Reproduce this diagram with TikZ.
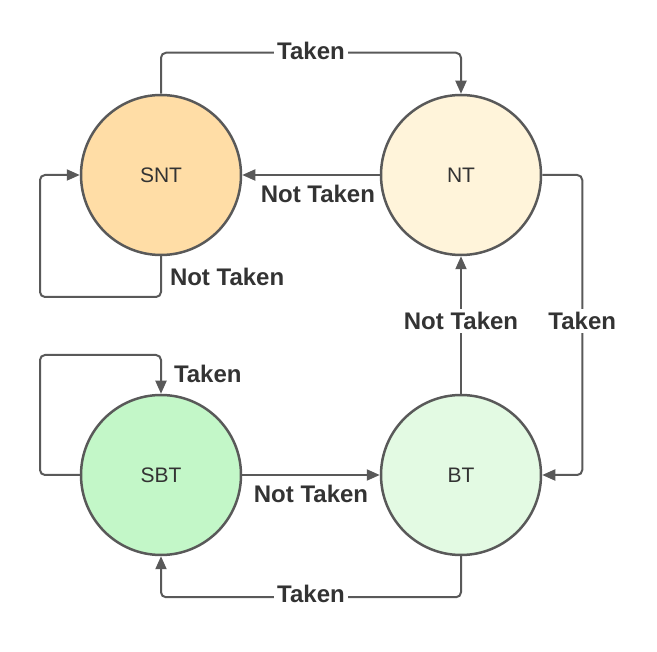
\documentclass[tikz,border=0pt]{standalone}
\usepackage{fontspec}
\setmainfont{Liberation Sans}
\usepackage{tikz}
\usetikzlibrary{arrows.meta}
\definecolor{linegray}{HTML}{595959}
\definecolor{textgray}{HTML}{333333}
\definecolor{sntfill}{HTML}{FFDDA6}
\definecolor{ntfill}{HTML}{FFF4DA}
\definecolor{sbtfill}{HTML}{C3F7C8}
\definecolor{btfill}{HTML}{E3FAE3}
\tikzstyle{state} = [circle, minimum size=160pt, inner sep=0pt, draw=linegray, line width=2.5pt, text=textgray, font=\fontsize{21}{25}\selectfont]
\tikzstyle{arrow} = [draw=linegray, line width=2pt, rounded corners=5pt, -{Triangle[length=13pt,width=11pt]}]
\tikzstyle{lbl} = [text=textgray, font=\fontsize{24}{28}\selectfont\bfseries, inner sep=3pt]

\begin{document}
\begin{tikzpicture}[x=1pt, y=-1pt]
        \useasboundingbox (0,0) rectangle (657,652);
        \node (snt) [state, fill=sntfill] at (161,175) {SNT};
        \node (nt) [state, fill=ntfill] at (461,175) {NT};
        \node (sbt) [state, fill=sbtfill] at (161,475) {SBT};
        \node (bt) [state, fill=btfill] at (461,475) {BT};
        \coordinate (sntloop) at (40,297);
        \coordinate (sbtloop) at (40,355);
        \draw [arrow] (snt.north) -- ++(0,-41) -| node[lbl, pos=0.25, fill=white, yshift=2pt] {Taken} (nt.north);
        \draw [arrow] (nt.west) -- node[lbl, below, pos=0.45, yshift=-6pt] {Not Taken} (snt.east);
        \draw [arrow] (snt.south) |- node[lbl, right, pos=0.25, xshift=5pt] {Not Taken} (sntloop) |- (snt.west);
        \draw [arrow] (nt.east) -- ++(40,0) |- node[lbl, pos=0.25, fill=white, yshift=4pt] {Taken} (bt.east);
        \draw [arrow] (bt.north) -- node[lbl, pos=0.5, fill=white, yshift=4pt] {Not Taken} (nt.south);
        \draw [arrow] (sbt.east) -- node[lbl, below, yshift=-6pt] {Not Taken} (bt.west);
        \draw [arrow] (bt.south) -- ++(0,41) -| node[lbl, pos=0.25, fill=white, yshift=3pt] {Taken} (sbt.south);
        \draw [arrow] (sbt.west) -| (sbtloop) -| node[lbl, right, pos=0.75, xshift=9pt] {Taken} (sbt.north);
    \end{tikzpicture}
\end{document}
